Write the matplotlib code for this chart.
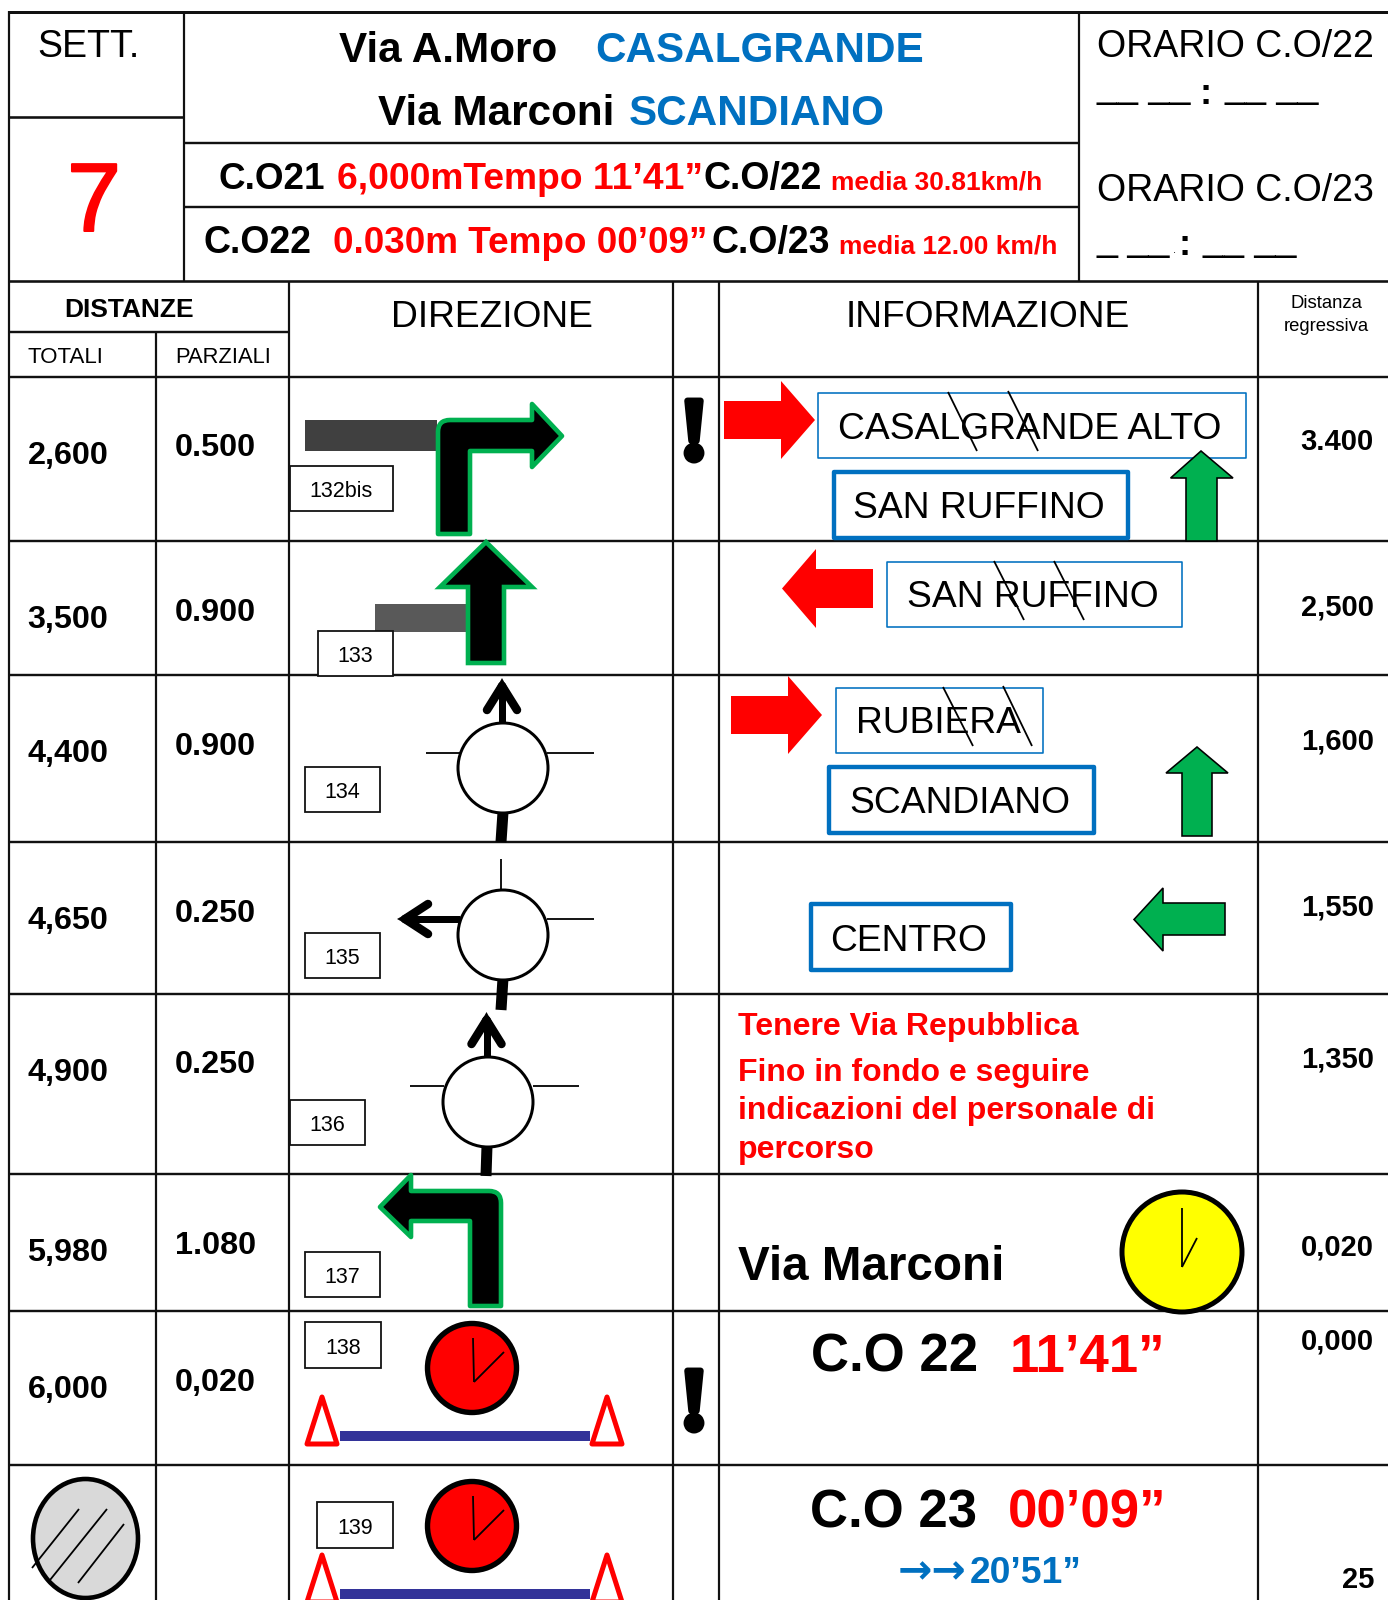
import matplotlib
matplotlib.use("Agg")
import matplotlib.pyplot as plt
from matplotlib.patches import Circle, Ellipse, PathPatch, Polygon, Rectangle
from matplotlib.path import Path
import matplotlib.patheffects as pe

plt.rcParams['font.family'] = ['Liberation Sans', 'DejaVu Sans']

BLUE = '#0070C0'
GREEN = '#00B050'
RED = '#FF0000'

totals = ['2,600', '3,500', '4,400', '4,650', '4,900', '5,980', '6,000']
partials = ['0.500', '0.900', '0.900', '0.250', '0.250', '1.080', '0,020']
regressive = ['3.400', '2,500', '1,600', '1,550', '1,350', '0,020', '0,000']
sign_numbers = ['132bis', '133', '134', '135', '136', '137', '138', '139']
notes = ['Tenere Via Repubblica', 'Fino in fondo e seguire',
         'indicazioni del personale di', 'percorso']

# baselines in pixels
total_y = [464, 628, 762, 929, 1081, 1261, 1398]
partial_y = [456, 621, 755, 922, 1073, 1254, 1391]
regressive_y = [450, 616, 749, 916, 1068, 1255, 1350]
note_y = [1035, 1081, 1119, 1158]
row_lines = [377, 541, 675, 842, 994, 1174, 1311, 1465]
sign_boxes = [(290, 466, 393, 511), (318, 631, 393, 676), (305, 767, 380, 812),
              (305, 933, 380, 978), (290, 1100, 365, 1145), (305, 1252, 380, 1297),
              (305, 1322, 381, 1368), (317, 1502, 393, 1548)]

fig = plt.figure(figsize=(13.88, 16), dpi=100)
ax = fig.add_axes([0, 0, 1, 1])
ax.set_xlim(0, 1388)
ax.set_ylim(1600, 0)
ax.axis('off')


def px(n):
    return n * 0.72


def label(x, y, s, size, color='black', weight='normal', ha='left'):
    return ax.text(x, y, s, fontsize=size, color=color, fontweight=weight, ha=ha,
                   va='baseline', zorder=10)


def hline(y, x0=9, x1=1388, w=2.4):
    ax.plot([x0, x1], [y, y], color='#111111', lw=px(w), solid_capstyle='butt', zorder=1)


def vline(x, y0=281, y1=1600, w=2.2):
    ax.plot([x, x], [y0, y1], color='#111111', lw=px(w), solid_capstyle='butt', zorder=1)


def seg(x0, y0, x1, y1, w=1.8, color='black', cap='butt', z=5):
    ax.plot([x0, x1], [y0, y1], color=color, lw=px(w), solid_capstyle=cap, zorder=z)


def poly(points, face, edge='none', w=0, z=4, join='miter'):
    ax.add_patch(Polygon(points, closed=True, facecolor=face, edgecolor=edge, lw=px(w),
                         joinstyle=join, zorder=z))


def right_arrow(x0, x1, x2, y0, y1, y2, y3):
    # shaft x0-x1, tip x2, head y0-y3, shaft y1-y2
    poly([(x0, y1), (x1, y1), (x1, y0), (x2, (y0 + y3) / 2), (x1, y3), (x1, y2), (x0, y2)], RED)


def left_arrow(x2, x1, x0, y0, y1, y2, y3, face=RED, edge='none', w=0):
    poly([(x0, y1), (x1, y1), (x1, y0), (x2, (y0 + y3) / 2), (x1, y3), (x1, y2), (x0, y2)],
         face, edge, w)


def up_arrow(tip_x, tip_y, base_y, x0, x1, x2, x3, bottom, face=GREEN, edge='black', w=1.6, z=5):
    poly([(x1, bottom), (x1, base_y), (x0, base_y), (tip_x, tip_y), (x3, base_y), (x2, base_y),
          (x2, bottom)], face, edge, w, z)


def sign(x0, y0, x1, y1, w):
    ax.add_patch(Rectangle((x0, y0), x1 - x0, y1 - y0, facecolor='white', edgecolor=BLUE,
                           lw=px(w), joinstyle='round', zorder=3))


def strike(x0, y0, x1, y1):
    seg(x0, y0, x1, y1, w=1.8, z=11)


def roundabout(cx, cy):
    ax.add_patch(Circle((cx, cy), 45, facecolor='white', edgecolor='black', lw=px(3), zorder=6))


def head_up(x, y):
    # solid tip with two thick round barbs
    poly([(x, y), (x - 10, y + 18), (x + 10, y + 18)], 'black', z=5)
    seg(x, y + 8, x - 15, y + 32, w=8.5, cap='round')
    seg(x, y + 8, x + 15, y + 32, w=8.5, cap='round')


def clock(cx, cy):
    ax.add_patch(Circle((cx, cy), 44.5, facecolor=RED, edgecolor='black', lw=px(5.4), zorder=6))
    seg(cx + 2, cy + 14, cx + 1, cy - 30, w=1.8, z=7)
    seg(cx + 2, cy + 14, cx + 32, cy - 16, w=1.8, z=7)


def cones(offset):
    for apex in [322, 607]:
        poly([(apex, 1397 + offset), (apex - 15, 1444 + offset), (apex + 15, 1444 + offset)],
             'white', RED, 5, z=5, join='round')
    ax.add_patch(Rectangle((340, 1431 + offset), 250, 10, facecolor='#333399', edgecolor='none',
                           zorder=5))


def bang(y):
    t = ax.text(694, y, '!', fontsize=64, fontweight='bold', family='Liberation Serif',
                ha='center', va='baseline', zorder=10)
    t.set_path_effects([pe.withStroke(linewidth=px(6.5), foreground='black', joinstyle='round')])


# table lines
hline(11.5, w=3)
hline(117, 9, 184, w=2.6)
hline(143, 184, 1079)
hline(207, 184, 1079)
hline(281, w=2.6)
hline(332, 9, 289.5)
for y in row_lines:
    hline(y)
vline(9, 11, 1600)
vline(184, 11, 281)
vline(1079, 11, 281)
vline(156, 332, 1600)
vline(289.5)
vline(673.5)
vline(718.6)
vline(1258)

# header
label(37, 57, 'SETT.', 27)
seven = label(67, 231, '7', 70, RED)
seven.set_path_effects([pe.withStroke(linewidth=px(2), foreground=RED)])
label(339, 62, 'Via A.Moro', 30.4, weight='bold')
label(595, 62, 'CASALGRANDE', 30.4, BLUE, 'bold')
label(378, 125, 'Via Marconi', 30.4, weight='bold')
label(629, 125, 'SCANDIANO', 30.4, BLUE, 'bold')

label(219, 189, 'C.O21', 26.6, weight='bold')
label(337, 189, '6,000mTempo 11’41”', 26.8, RED, 'bold')
label(703.5, 189, 'C.O/22', 27, weight='bold')
label(831, 189, 'media 30.81km/h', 19, RED, 'bold')
label(204, 253, 'C.O22', 27, weight='bold')
label(333, 253, '0.030m Tempo 00’09”', 26.6, RED, 'bold')
label(711.5, 253, 'C.O/23', 27, weight='bold')
label(839, 253, 'media 12.00 km/h', 19, RED, 'bold')

label(1097, 57, 'ORARIO C.O/22', 27)
label(1097, 97, '__ __', 27)
label(1200, 104, ':', 26, weight='bold')
label(1225, 97, '__ __', 27)
label(1097, 201, 'ORARIO C.O/23', 27)
label(1097, 250, '_ __', 27)
label(1173, 253, '.', 8)
label(1179, 255, ':', 26, weight='bold')
label(1203, 250, '__ __', 27)

label(64, 317, 'DISTANZE', 19, weight='bold')
label(27.5, 363, 'TOTALI', 16)
label(175, 363, 'PARZIALI', 15.8)
label(391, 327, 'DIREZIONE', 26.8)
label(846, 327, 'INFORMAZIONE', 26.8)
label(1326, 308, 'Distanza', 13.3, ha='center')
label(1326, 331, 'regressiva', 13.3, ha='center')

# distance columns
for t, y in zip(totals, total_y):
    label(27.5, y, t, 23.3, weight='bold')
for p, y in zip(partials, partial_y):
    label(175, y, p, 23.3, weight='bold')
for r, y in zip(regressive, regressive_y):
    label(1374, y, r, 21, weight='bold', ha='right')
label(1374, 1588, '25', 21, weight='bold', ha='right')

# numbered boxes
for n, (x0, y0, x1, y1) in zip(sign_numbers, sign_boxes):
    ax.add_patch(Rectangle((x0, y0), x1 - x0, y1 - y0, facecolor='white', edgecolor='#111111',
                           lw=px(1.8), zorder=3))
    label((x0 + x1) / 2, y1 - 14, n, 15.5, ha='center')

# grey side roads
ax.add_patch(Rectangle((305, 420), 132, 31, facecolor='#404040', edgecolor='none', zorder=2))
ax.add_patch(Rectangle((375, 604), 92, 28, facecolor='#595959', edgecolor='none', zorder=2))

# turn arrows
turn = Path([(438, 534), (438, 432), (438, 420), (450, 420), (532, 420), (532, 404), (562, 436),
             (532, 467), (532, 451), (470, 451), (470, 534), (438, 534)],
            [Path.MOVETO, Path.LINETO, Path.CURVE3, Path.CURVE3, Path.LINETO, Path.LINETO,
             Path.LINETO, Path.LINETO, Path.LINETO, Path.LINETO, Path.LINETO, Path.CLOSEPOLY])
ax.add_patch(PathPatch(turn, facecolor='black', edgecolor=GREEN, lw=px(4.6), joinstyle='round', zorder=5))
up_arrow(486, 542, 587, 440, 468, 504, 532, 663, 'black', GREEN, 4.6)
turn = Path([(501, 1306), (501, 1203), (501, 1191), (489, 1191), (411, 1191), (411, 1175),
             (380, 1207), (411, 1237), (411, 1221), (470, 1221), (470, 1306), (501, 1306)],
            [Path.MOVETO, Path.LINETO, Path.CURVE3, Path.CURVE3, Path.LINETO, Path.LINETO,
             Path.LINETO, Path.LINETO, Path.LINETO, Path.LINETO, Path.LINETO, Path.CLOSEPOLY])
ax.add_patch(PathPatch(turn, facecolor='black', edgecolor=GREEN, lw=px(4.6), joinstyle='round', zorder=5))

# roundabouts
seg(426, 753, 460, 753)
seg(547, 753, 594, 753)
seg(502, 722, 502, 690, w=7)
head_up(502, 678)
seg(503, 812, 501, 842, w=11)
roundabout(503, 768)

seg(501, 859, 501, 891)
seg(547, 919, 594, 919)
seg(460, 919, 405, 919, w=7)
poly([(397, 919), (415, 909), (415, 929)], 'black', z=5)
seg(405, 919, 428, 904, w=8.5, cap='round')
seg(405, 919, 428, 934, w=8.5, cap='round')
seg(503, 978, 501, 1010, w=11)
roundabout(503, 935)

seg(410, 1086, 444, 1086)
seg(533, 1086, 579, 1086)
seg(487, 1058, 487, 1024, w=7)
head_up(486.5, 1012)
seg(487, 1146, 486, 1176, w=11)
roundabout(488, 1102)

# finish marks
clock(472, 1368)
clock(472, 1526)
cones(0)
cones(158)
bang(459)
bang(1429)

# mirror
ax.add_patch(Ellipse((85.5, 1538.5), 105, 119, facecolor='#D9D9D9', edgecolor='black', lw=px(4.6), zorder=5))
seg(32, 1568, 79, 1509, z=6)
seg(50, 1580, 107, 1509, z=6)
seg(78, 1583, 124, 1524, z=6)

# information column
right_arrow(724, 781, 815, 381, 401, 439, 459)
sign(818, 393, 1246.5, 458, 1.6)
label(838.5, 439, 'CASALGRANDE ALTO', 26.8)
strike(948, 392, 977, 451)
strike(1008, 391, 1038, 451)
sign(834, 472, 1128.5, 538, 4.4)
label(853.5, 518, 'SAN RUFFINO', 26.8)
up_arrow(1201, 451, 478, 1170.6, 1186, 1217, 1233, 541)

left_arrow(782, 816, 873, 549, 569, 608, 628)
sign(887, 562, 1182, 627, 1.6)
label(907.5, 607, 'SAN RUFFINO', 26.8)
strike(994, 561, 1024, 620)
strike(1054, 561, 1084, 620)

right_arrow(731, 788, 822, 676, 696, 734, 754)
sign(836, 688, 1043, 753, 1.6)
label(856, 733, 'RUBIERA', 26.8)
strike(943, 687, 973, 746)
strike(1003, 686, 1032, 746)
sign(829, 767, 1094, 833, 4.4)
label(849, 813, 'SCANDIANO', 26.8)
up_arrow(1197, 747, 773, 1166, 1182, 1212, 1228, 836)

sign(811, 904, 1011, 970, 4.4)
label(830.5, 951, 'CENTRO', 26.8)
left_arrow(1134, 1163, 1225, 888, 903, 935, 951, GREEN, 'black', 1.6)

for s, y in zip(notes, note_y):
    label(738, y, s, 23, RED, 'bold')

label(738, 1280, 'Via Marconi', 34.3, weight='bold')
ax.add_patch(Circle((1182, 1252), 60, facecolor='#FFFF00', edgecolor='black', lw=px(5), zorder=6))
seg(1182, 1267, 1182, 1208, z=7)
seg(1182, 1267, 1197, 1238, z=7)

label(811, 1372, 'C.O 22', 38, weight='bold')
label(1010, 1372, '11’41”', 38, RED, 'bold')
label(810, 1527, 'C.O 23', 38, weight='bold')
label(1008, 1527, '00’09”', 38, RED, 'bold')
ax.text(898, 1583, '→→', fontsize=29.5, color=BLUE, fontweight='bold', family='DejaVu Sans',
        ha='left', va='baseline', zorder=10)
label(970, 1583, '20’51”', 26.8, BLUE, 'bold')

fig.savefig('out.png', dpi=100)
